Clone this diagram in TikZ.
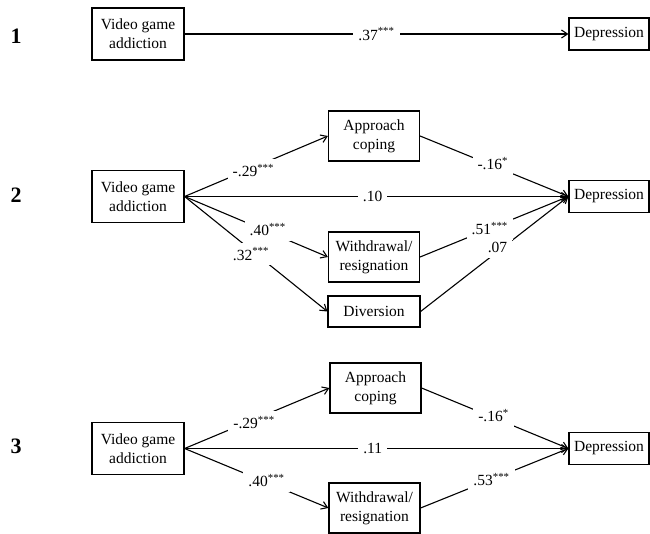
\documentclass[tikz,border=0pt]{standalone}
\usepackage{fontspec}
\setmainfont{Liberation Serif}
\usetikzlibrary{arrows.meta}
\tikzset{
  box/.style={draw, line width=1.2pt, align=center, inner sep=2pt,
    font=\fontsize{15.5}{19}\selectfont},
  vgabox/.style={box, minimum width=92pt, minimum height=52pt},
  midbox/.style={box, minimum width=91pt, minimum height=50pt},
  depbox/.style={box, minimum width=80pt, minimum height=32pt},
  divbox/.style={box, minimum width=92pt, minimum height=31pt},
  arr/.style={draw, line width=1.1pt, -{Straight Barb[length=6pt,width=8pt]}},
  lbl/.style={fill=white, inner sep=5pt, font=\fontsize{15.5}{18}\selectfont},
  num/.style={font=\fontsize{22}{24}\selectfont\bfseries}
}
\newcommand{\sig}[1]{\textsuperscript{#1}}
\begin{document}
\begin{tikzpicture}[x=1pt,y=-1pt]
\useasboundingbox (0,0) rectangle (650,534);
% ---------- Panel 1
\node[num] (n1) at (16,36) {1};
\node[vgabox] (vga1) at (138,34) {Video game\\addiction};
\node[depbox] (dep1) at (609,34) {Depression};
\draw[arr] (vga1.east) -- (dep1.west);
\path (vga1.east) -- (dep1.west) node[lbl,pos=0.5] (l1) {.37\sig{***}};
% ---------- Panel 2
\node[num] (n2) at (16,195) {2};
\node[vgabox] (vga2) at (138,196.5) {Video game\\addiction};
\node[midbox] (app2) at (374,136) {Approach\\coping};
\node[midbox] (wd2) at (374,257) {Withdrawal/\\resignation};
\node[divbox] (div2) at (374,311.5) {Diversion};
\node[depbox] (dep2) at (609,196.5) {Depression};
\draw[arr] (vga2.east) -- (app2.west);
\draw[arr] (vga2.east) -- (dep2.west);
\draw[arr] (vga2.east) -- (wd2.west);
\draw[arr] (vga2.east) -- (div2.west);
\draw[arr] (app2.east) -- (dep2.west);
\draw[arr] (wd2.east) -- (dep2.west);
\draw[arr] (div2.east) -- (dep2.west);
\path (vga2.east) -- (app2.west) node[lbl,pos=0.48,yshift=-3pt] (l2a) {-.29\sig{***}};
\path (vga2.east) -- (dep2.west) node[lbl,pos=0.49] (l2b) {.10};
\path (vga2.east) -- (wd2.west) node[lbl,pos=0.58,yshift=2pt] (l2c) {.40\sig{***}};
\path (vga2.east) -- (div2.west) node[lbl,pos=0.5,xshift=-5pt] (l2d) {.32\sig{***}};
\path (app2.east) -- (dep2.west) node[lbl,pos=0.49,yshift=2pt] (l2e) {-.16\sig{*}};
\path (wd2.east) -- (dep2.west) node[lbl,pos=0.47] (l2f) {.51\sig{***}};
\path (div2.east) -- (dep2.west) node[lbl,pos=0.52,yshift=4pt] (l2g) {.07};
% ---------- Panel 3
\node[num] (n3) at (16,446) {3};
\node[vgabox] (vga3) at (138,448.5) {Video game\\addiction};
\node[midbox] (app3) at (375.5,388) {Approach\\coping};
\node[midbox] (wd3) at (374.5,508) {Withdrawal/\\resignation};
\node[depbox] (dep3) at (609,448.5) {Depression};
\draw[arr] (vga3.east) -- (app3.west);
\draw[arr] (vga3.east) -- (dep3.west);
\draw[arr] (vga3.east) -- (wd3.west);
\draw[arr] (app3.east) -- (dep3.west);
\draw[arr] (wd3.east) -- (dep3.west);
\path (vga3.east) -- (app3.west) node[lbl,pos=0.48,yshift=-3pt] (l3a) {-.29\sig{***}};
\path (vga3.east) -- (dep3.west) node[lbl,pos=0.49] (l3b) {.11};
\path (vga3.east) -- (wd3.west) node[lbl,pos=0.57,yshift=2pt] (l3c) {.40\sig{***}};
\path (app3.east) -- (dep3.west) node[lbl,pos=0.49,yshift=2pt] (l3d) {-.16\sig{*}};
\path (wd3.east) -- (dep3.west) node[lbl,pos=0.48] (l3e) {.53\sig{***}};
\end{tikzpicture}
\end{document}
